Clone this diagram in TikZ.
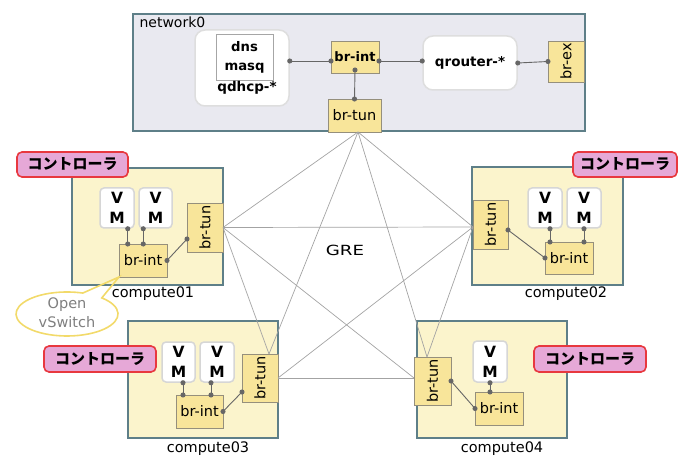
\documentclass[tikz,border=0pt]{standalone}
\usepackage{fontspec}
\usepackage{graphicx}
\setmainfont{DejaVu Sans}
\newfontfamily\jpfont{Noto Sans CJK JP}
\usetikzlibrary{arrows.meta,calc}

\definecolor{netfill}{HTML}{E9E9F0}
\definecolor{framec}{HTML}{5E7F88}
\definecolor{hostfill}{HTML}{FBF4CC}
\definecolor{brfill}{HTML}{F8E59A}
\definecolor{brdraw}{HTML}{958F7C}
\definecolor{nsdraw}{HTML}{DEDEDE}
\definecolor{vmdraw}{HTML}{D6D6D6}
\definecolor{ctrlfill}{HTML}{E6A8D7}
\definecolor{ctrldraw}{HTML}{E8383F}
\definecolor{dotc}{HTML}{666666}
\definecolor{grec}{HTML}{A3A3A3}
\definecolor{calloutc}{HTML}{F2DA6A}
\definecolor{calltext}{HTML}{7F7F7F}

\tikzset{
  frame/.style={draw=framec, line width=2pt, inner sep=0pt, outer sep=0pt},
  netbox/.style={frame, fill=netfill},
  hostbox/.style={frame, fill=hostfill},
  bridge/.style={draw=brdraw, line width=0.8pt, fill=brfill, inner sep=0pt, outer sep=0pt,
                 font=\fontsize{14.5}{16}\selectfont},
  nsbox/.style={draw=nsdraw, line width=1.5pt, fill=white, rounded corners=10pt, inner sep=0pt,
                font=\bfseries\fontsize{13.2}{19}\selectfont},
  innerbox/.style={draw=gray!70, line width=0.8pt, fill=white, inner sep=0pt, align=center,
                   font=\bfseries\fontsize{13.2}{19}\selectfont},
  vmbox/.style={draw=vmdraw, line width=1.5pt, fill=white, rounded corners=4pt, align=center,
                inner sep=0pt, font=\bfseries\fontsize{15.5}{20}\selectfont},
  ctrl/.style={draw=ctrldraw, line width=1.6pt, fill=ctrlfill, rounded corners=5pt, inner sep=0pt,
               font=\jpfont\bfseries\fontsize{15}{17}\selectfont},
  link/.style={draw=dotc, line width=0.9pt, {Circle[length=5pt]}-{Circle[length=5pt]},
               shorten <=-2.5pt, shorten >=-2.5pt},
  gre/.style={draw=grec, line width=0.7pt},
  hostlabel/.style={anchor=base, font=\fontsize{14.5}{17}\selectfont},
  callout/.style={draw=calloutc, line width=1.6pt},
}

\begin{document}
\begin{tikzpicture}[x=1pt,y=-1pt]
\useasboundingbox (0,0) rectangle (680,457);

% ---------- network node ----------
\node[netbox, minimum width=452pt, minimum height=117pt] (net) at (359,72.5) {};
\node[anchor=base west, font=\fontsize{14}{17}\selectfont] (netlbl) at (136,28) {network0};

\node[nsbox, minimum width=94pt, minimum height=76pt] (qdhcp) at (242,68) {};
\node[innerbox, minimum width=57pt, minimum height=46pt] (dnsmasq) at (244.5,57) {dns\\masq};
\node[anchor=base, font=\bfseries\fontsize{13.5}{16}\selectfont] (qdhcplbl) at (247,91.5) {qdhcp-*};

\node[bridge, minimum width=48pt, minimum height=32pt, font=\bfseries\fontsize{13}{16}\selectfont] (nint) at (355,57) {br-int};
\node[nsbox, minimum width=94pt, minimum height=54pt, font=\bfseries\fontsize{13.5}{16}\selectfont] (qrouter) at (470,63) {qrouter-*};
\node[bridge, minimum width=36pt, minimum height=41pt] (brex) at (566,61.5) {\rotatebox{90}{br-ex}};
\node[bridge, minimum width=53pt, minimum height=33pt] (ntun) at (354.5,115.5) {br-tun};

\coordinate (nrow) at ([yshift=-4pt]nint.west);
\coordinate (nrow2) at ([yshift=-4pt]nint.east);
\draw[link] (nrow -| qdhcp.east) -- (nrow);
\draw[link] (nrow2) -- (nrow2 -| qrouter.west);
\draw[link] (qrouter.east) -- (brex.west);
\draw[link] ([yshift=3pt]nint.south) -- (ntun.north);

% ---------- compute01 ----------
\node[hostbox, minimum width=151pt, minimum height=117pt] (h1) at (147.5,226.5) {};
\node[ctrl, minimum width=111pt, minimum height=25pt] (ctl1) at (72.5,164.5) {コントローラ};
\node[vmbox, minimum width=34pt, minimum height=40pt] (c1vm1) at (117,208) {V\\M};
\node[vmbox, minimum width=33pt, minimum height=40pt] (c1vm2) at (155.5,208) {V\\M};
\node[bridge, minimum width=48pt, minimum height=33pt] (c1int) at (143,260.5) {br-int};
\node[bridge, minimum width=36pt, minimum height=49pt] (c1tun) at (205,227.5) {\rotatebox{90}{br-tun}};
\node[hostlabel] (h1lbl) at (153,297) {compute01};
\draw[link] ([xshift=-7pt]c1vm1.south east) -- ([xshift=-7pt]c1vm1.south east |- c1int.north);
\draw[link] ([xshift=5pt]c1vm2.south west) -- ([xshift=5pt]c1vm2.south west |- c1int.north);
\draw[link] (c1int.east) -- ([yshift=-11.5pt]c1tun.west);

% ---------- compute02 ----------
\node[hostbox, minimum width=151pt, minimum height=118pt] (h2) at (547.5,226) {};
\node[ctrl, minimum width=104pt, minimum height=25pt] (ctl2) at (625,164.5) {コントローラ};
\node[vmbox, minimum width=34pt, minimum height=40pt] (c2vm1) at (545,208) {V\\M};
\node[vmbox, minimum width=34pt, minimum height=40pt] (c2vm2) at (584,208) {V\\M};
\node[bridge, minimum width=35pt, minimum height=49pt] (c2tun) at (490.5,224.5) {\rotatebox{90}{br-tun}};
\node[bridge, minimum width=48pt, minimum height=32pt] (c2int) at (569,258) {br-int};
\node[hostlabel] (h2lbl) at (566,297) {compute02};
\draw[link] ([xshift=5pt]c2vm1.south) -- ([xshift=5pt]c2vm1.south |- c2int.north);
\draw[link] (c2vm2.south) -- (c2vm2.south |- c2int.north);
\draw[link] ([yshift=-5.5pt]c2tun.east) -- (c2int.west);

% ---------- compute03 ----------
\node[hostbox, minimum width=150pt, minimum height=117pt] (h3) at (203,379.5) {};
\node[ctrl, minimum width=112pt, minimum height=26pt] (ctl3) at (100,359) {コントローラ};
\node[vmbox, minimum width=33pt, minimum height=40pt] (c3vm1) at (178.5,362) {V\\M};
\node[vmbox, minimum width=34pt, minimum height=40pt] (c3vm2) at (217,362) {V\\M};
\node[bridge, minimum width=47pt, minimum height=33pt] (c3int) at (199.5,411.5) {br-int};
\node[bridge, minimum width=36pt, minimum height=48pt] (c3tun) at (260,378) {\rotatebox{90}{br-tun}};
\node[hostlabel] (h3lbl) at (208,452.5) {compute03};
\draw[link] ([xshift=4.5pt]c3vm1.south) -- ([xshift=4.5pt]c3vm1.south |- c3int.north);
\draw[link] ([xshift=-6pt]c3vm2.south) -- ([xshift=-6pt]c3vm2.south |- c3int.north);
\draw[link] (c3int.east) -- ([yshift=-14pt]c3tun.west);

% ---------- compute04 ----------
\node[hostbox, minimum width=150pt, minimum height=117pt] (h4) at (492,379.5) {};
\node[ctrl, minimum width=112pt, minimum height=26pt] (ctl4) at (590,359) {コントローラ};
\node[vmbox, minimum width=34pt, minimum height=41pt] (c4vm) at (490,361.5) {V\\M};
\node[bridge, minimum width=37pt, minimum height=48pt] (c4tun) at (432.5,381) {\rotatebox{90}{br-tun}};
\node[bridge, minimum width=48pt, minimum height=33pt] (c4int) at (499,408.5) {br-int};
\node[hostlabel] (h4lbl) at (502,452.5) {compute04};
\draw[link] (c4vm.south) -- (c4vm.south |- c4int.north);
\draw[link] (c4tun.east) -- (c4int.west);

% ---------- GRE tunnel mesh ----------
\coordinate (g0) at ([xshift=3.5pt]ntun.south);
\coordinate (g1) at (c1tun.east);
\coordinate (g2) at ([yshift=-2.5pt]c2tun.west);
\coordinate (g3t) at ([xshift=9pt]c3tun.north);
\coordinate (g3e) at (c3tun.east);
\coordinate (g4t) at ([xshift=-5.5pt]c4tun.north);
\coordinate (g4w) at ([yshift=3pt]c4tun.west);
\draw[gre] (g0) -- (g1);
\draw[gre] (g0) -- (g2);
\draw[gre] (g0) -- (g3t);
\draw[gre] (g0) -- (g4t);
\draw[gre] (g1) -- (g2);
\draw[gre] (g1) -- (g3t);
\draw[gre] (g1) -- (g4w);
\draw[gre] (g2) -- (g3e);
\draw[gre] (g2) -- (g4t);
\draw[gre] (g3e) -- (g4w);
\node[anchor=base, font=\fontsize{14}{16}\selectfont] (gre) at (345,255) {\scalebox{1.3}[1]{GRE}};

% ---------- Open vSwitch callout ----------
\draw[callout] (101.8,297.9) arc[start angle=47, end angle=-288, x radius=51pt, y radius=22pt]
  -- (c1int.south west) -- cycle;
\node[align=center, text=calltext, font=\fontsize{14.5}{18.7}\selectfont] (ovs) at (67,313) {Open\\vSwitch};
\end{tikzpicture}
\end{document}
